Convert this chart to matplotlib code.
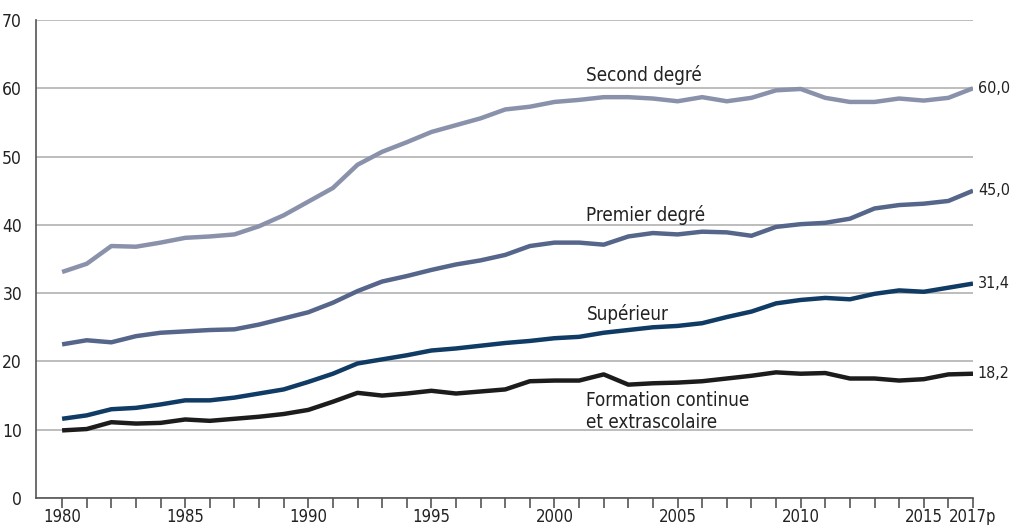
import matplotlib.pyplot as plt
import numpy as np

years = np.arange(1980, 2018)

second_degre = [33.1, 34.3, 36.9, 36.8, 37.4, 38.1, 38.3, 38.6, 39.8, 41.4,
                43.4, 45.4, 48.8, 50.7, 52.1, 53.6, 54.6, 55.6, 56.9, 57.3,
                58.0, 58.3, 58.7, 58.7, 58.5, 58.1, 58.7, 58.1, 58.6, 59.7,
                59.9, 58.6, 58.0, 58.0, 58.5, 58.2, 58.6, 60.0]
premier_degre = [22.5, 23.1, 22.8, 23.7, 24.2, 24.4, 24.6, 24.7, 25.4, 26.3,
                 27.2, 28.6, 30.3, 31.7, 32.5, 33.4, 34.2, 34.8, 35.6, 36.9,
                 37.4, 37.4, 37.1, 38.3, 38.8, 38.6, 39.0, 38.9, 38.4, 39.7,
                 40.1, 40.3, 40.9, 42.4, 42.9, 43.1, 43.5, 45.0]
superieur = [11.6, 12.1, 13.0, 13.2, 13.7, 14.3, 14.3, 14.7, 15.3, 15.9,
             17.0, 18.2, 19.7, 20.3, 20.9, 21.6, 21.9, 22.3, 22.7, 23.0,
             23.4, 23.6, 24.2, 24.6, 25.0, 25.2, 25.6, 26.5, 27.3, 28.5,
             29.0, 29.3, 29.1, 29.9, 30.4, 30.2, 30.8, 31.4]
formation = [9.9, 10.1, 11.1, 10.9, 11.0, 11.5, 11.3, 11.6, 11.9, 12.3,
             12.9, 14.1, 15.4, 15.0, 15.3, 15.7, 15.3, 15.6, 15.9, 17.1,
             17.2, 17.2, 18.1, 16.6, 16.8, 16.9, 17.1, 17.5, 17.9, 18.4,
             18.2, 18.3, 17.5, 17.5, 17.2, 17.4, 18.1, 18.2]

series = [
    ("Second degré", second_degre, "#8a92ab", 62.0),
    ("Premier degré", premier_degre, "#56658a", 41.5),
    ("Supérieur", superieur, "#0f3b64", 27.0),
    ("Formation continue\net extrascolaire", formation, "#1c1c1c", 12.6),
]

plt.rcParams["font.family"] = ["DejaVu Sans"]
plt.rcParams["font.stretch"] = "condensed"
FS = 12
TXT = "#222222"

fig = plt.figure(figsize=(10.11, 5.25), dpi=100)
ax = fig.add_axes([36 / 1011, 1 - 498 / 525, (973 - 36) / 1011, (498 - 20) / 525])

for label, values, color, label_y in series:
    ax.plot(years, values, color=color, lw=3.2, solid_capstyle="butt", zorder=3)
    ax.text(2017.2, values[-1], f"{values[-1]:.1f}".replace(".", ","), fontsize=11.5,
            color=TXT, va="center", ha="left")
    ax.text(2001.3, label_y, label, fontsize=13.5, color=TXT, va="center",
            ha="left", linespacing=1.2)

ax.set_xlim(1978.94, 2017)
ax.set_ylim(0, 70)
ax.set_yticks(np.arange(0, 71, 10))
ax.set_xticks(years)
ax.set_xticklabels([str(y) if y % 5 == 0 else ("2017p" if y == 2017 else "") for y in years])
ax.grid(True, axis="y", color="#b8b8b8", lw=1.3)
ax.set_axisbelow(True)
for side in ["top", "right"]:
    ax.spines[side].set_visible(False)
for side in ["left", "bottom"]:
    ax.spines[side].set_color("#555555")
    ax.spines[side].set_linewidth(1.2)
ax.tick_params(axis="y", length=0, labelsize=FS + 0.5, pad=10, labelcolor=TXT)
ax.tick_params(axis="x", length=7, width=1.2, color="#555555", labelsize=FS, pad=0.5,
               labelcolor=TXT)

fig.text(40 / 1011, 1.008, "En milliards d'euros", fontsize=FS, color="#888888", va="bottom")

fig.savefig("out.png", dpi=100)
